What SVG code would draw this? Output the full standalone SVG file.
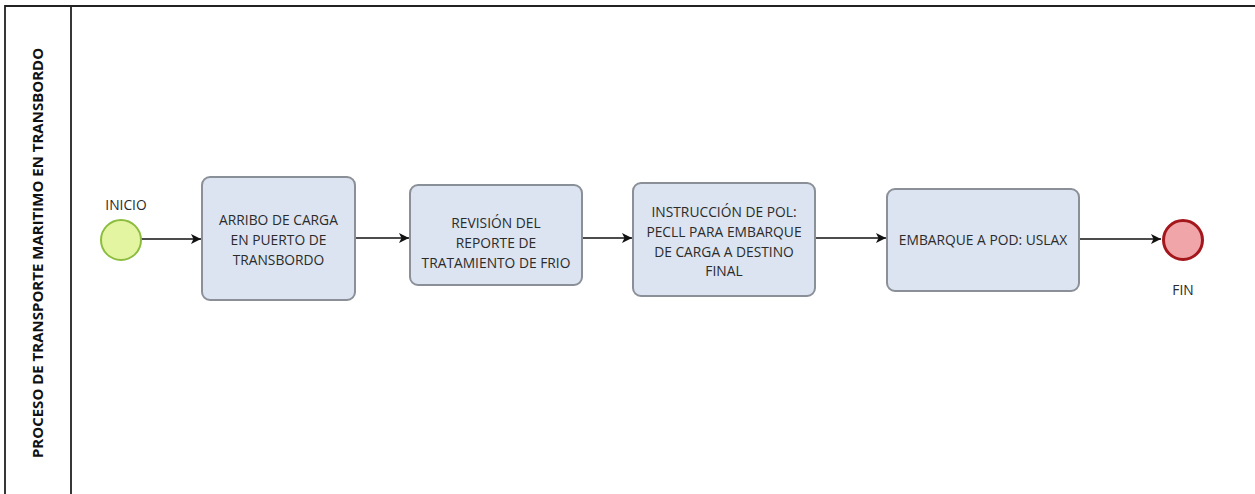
<svg xmlns="http://www.w3.org/2000/svg" width="1255" height="494" viewBox="0 0 1255 494">
  <style>
    .lane { fill: none; stroke: #222; stroke-width: 1.8; }
    .task { fill: #dbe4f0; stroke: #8b9098; stroke-width: 2; }
    .txt { font-family: "Open Sans", "Liberation Sans", sans-serif; font-size: 13.8px; fill: #2b2b2b; text-anchor: middle; }
    .title { font-family: "Open Sans", "Liberation Sans", sans-serif; font-size: 15px; font-weight: bold; fill: #111; text-anchor: middle; }
    .conn { fill: none; stroke: #111; stroke-width: 1.5; }
  </style>
  <defs>
    <marker id="arrow" viewBox="0 0 10 10" refX="10" refY="5" markerWidth="10" markerHeight="10" markerUnits="userSpaceOnUse" orient="auto">
      <path d="M0,0 L10,5 L0,10 L2.5,5 Z" fill="#111"/>
    </marker>
  </defs>
  <rect width="1255" height="494" fill="#ffffff"/>

  <g id="pool">
    <path class="lane" d="M1255,6 H5 V494 M71,6 V494"/>
    <text class="title" transform="translate(43,253) rotate(-90)">PROCESO DE TRANSPORTE MARITIMO EN TRANSBORDO</text>
  </g>

  <g id="connectors">
    <line class="conn" x1="141" y1="239" x2="201" y2="239" marker-end="url(#arrow)"/>
    <line class="conn" x1="355" y1="238" x2="409" y2="238" marker-end="url(#arrow)"/>
    <line class="conn" x1="582" y1="238" x2="632" y2="238" marker-end="url(#arrow)"/>
    <line class="conn" x1="815" y1="238" x2="886" y2="238" marker-end="url(#arrow)"/>
    <line class="conn" x1="1079" y1="239" x2="1161" y2="239" marker-end="url(#arrow)"/>
  </g>

  <g id="start">
    <circle cx="121" cy="240" r="20" fill="#e4f5a2" stroke="#8cbd3e" stroke-width="2"/>
    <text class="txt" x="126" y="210">INICIO</text>
  </g>

  <g id="task1">
    <rect class="task" x="202" y="177" width="153" height="123" rx="8"/>
    <text class="txt" x="278.5" y="225">ARRIBO DE CARGA</text>
    <text class="txt" x="278.5" y="245">EN PUERTO DE</text>
    <text class="txt" x="278.5" y="265">TRANSBORDO</text>
  </g>

  <g id="task2">
    <rect class="task" x="410" y="185" width="172" height="100" rx="8"/>
    <text class="txt" x="496" y="228">REVISIÓN DEL</text>
    <text class="txt" x="496" y="248">REPORTE DE</text>
    <text class="txt" x="496" y="268">TRATAMIENTO DE FRIO</text>
  </g>

  <g id="task3">
    <rect class="task" x="633" y="183" width="182" height="113" rx="8"/>
    <text class="txt" x="724" y="217">INSTRUCCIÓN DE POL:</text>
    <text class="txt" x="724" y="237">PECLL PARA EMBARQUE</text>
    <text class="txt" x="724" y="257">DE CARGA A DESTINO</text>
    <text class="txt" x="724" y="276">FINAL</text>
  </g>

  <g id="task4">
    <rect class="task" x="887" y="189" width="192" height="102" rx="8"/>
    <text class="txt" x="983" y="245">EMBARQUE A POD: USLAX</text>
  </g>

  <g id="end">
    <circle cx="1183" cy="240" r="19.5" fill="#f0a5a8" stroke="#a3171d" stroke-width="3"/>
    <text class="txt" x="1183" y="295">FIN</text>
  </g>
</svg>
